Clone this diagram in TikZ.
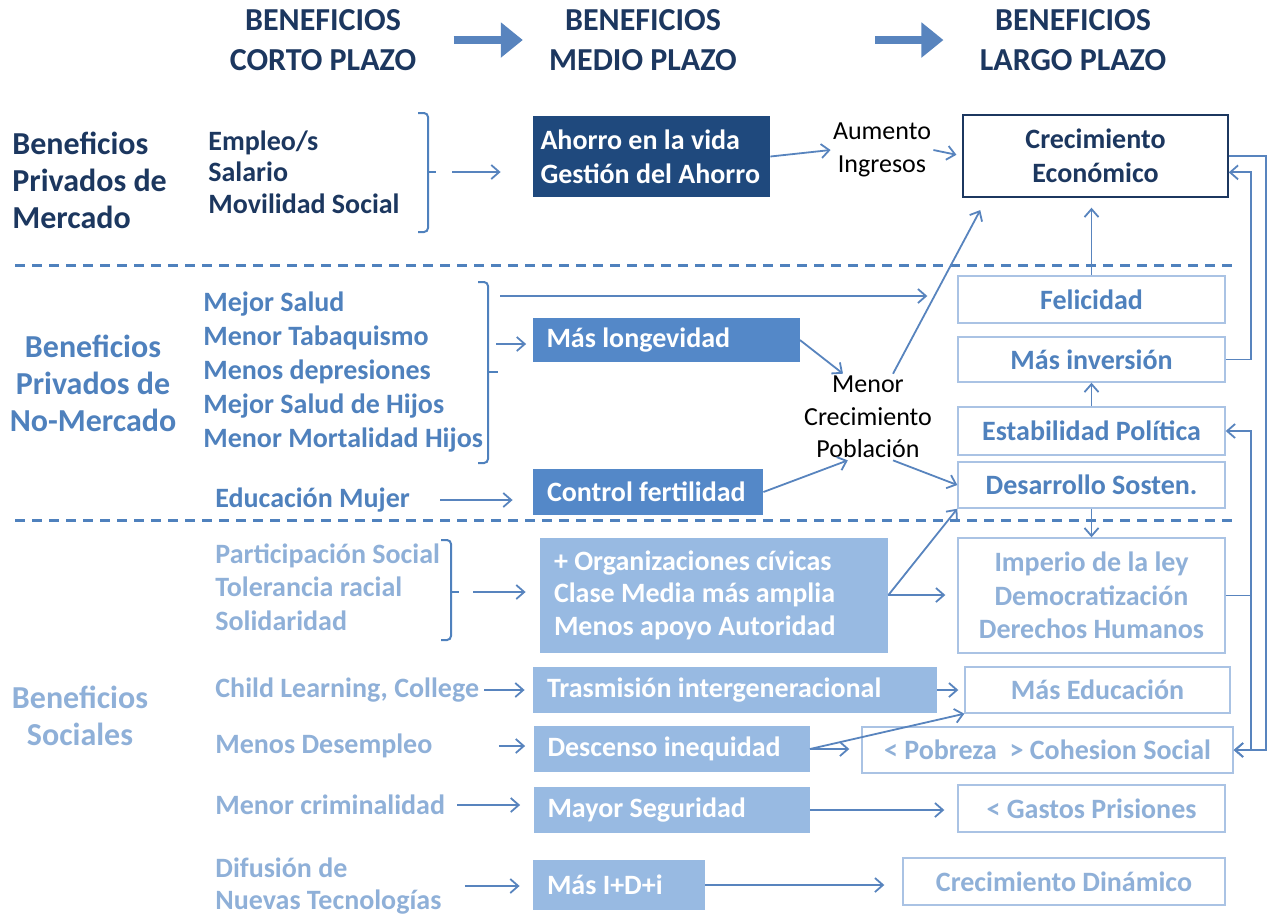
\documentclass[tikz,border=0pt]{standalone}
\usepackage{fontspec}
\setmainfont{Carlito}
\usetikzlibrary{arrows.meta}

\definecolor{navy}{RGB}{28,55,95}
\definecolor{navybox}{RGB}{31,73,125}
\definecolor{midblue}{RGB}{79,129,189}
\definecolor{midbox}{RGB}{84,136,200}
\definecolor{lightblue}{RGB}{143,176,216}
\definecolor{lightbox}{RGB}{152,186,226}
\definecolor{boxline}{RGB}{170,195,228}
\definecolor{arrowblue}{RGB}{88,132,190}

\begin{document}
\begin{tikzpicture}[x=0.5pt, y=-0.5pt,
		hdr/.style={font=\fontsize{16}{20}\selectfont\bfseries, text=navy, align=center, inner sep=0},
		cat/.style={font=\fontsize{16}{18.5}\selectfont\bfseries, inner sep=0},
		item/.style={font=\fontsize{14}{16.5}\selectfont\bfseries, anchor=west, align=flush left, inner sep=0},
		plain/.style={font=\fontsize{13}{16.25}\selectfont, align=center, inner sep=1pt},
		fbox/.style 2 args={text width=#1, minimum height=#2, inner xsep=7pt, inner ysep=0, align=flush left, text=white, font=\fontsize{14}{17}\selectfont\bfseries},
		obox/.style 2 args={draw=boxline, line width=0.7pt, fill=white, minimum width=#1, minimum height=#2, align=center, inner sep=0, font=\fontsize{14}{17}\selectfont\bfseries},
		link/.style={-{Straight Barb[length=4pt,width=7pt]}, draw=arrowblue, line width=0.9pt},
		bigarrow/.style={-{Triangle[length=11pt,width=17pt]}, draw=arrowblue, line width=4pt},
		sep/.style={draw=midblue, line width=1.5pt, dash pattern=on 5pt off 3.5pt},
		brace/.style={draw=midblue, line width=1pt, rounded corners=2pt}]
		\useasboundingbox ( 0, 0 ) rectangle ( 1277, 918 );

		% cabeceras
		\node [hdr] (hdrCorto) at ( 323, 40 ) {BENEFICIOS\\CORTO PLAZO};
		\node [hdr] (hdrMedio) at ( 643, 40 ) {BENEFICIOS\\MEDIO PLAZO};
		\node [hdr] (hdrLargo) at ( 1073, 40 ) {BENEFICIOS\\LARGO PLAZO};
		\draw [bigarrow, shorten <=18.5pt, shorten >=13pt] (hdrCorto.east) -- (hdrMedio.west);
		\draw [bigarrow, shorten <=69pt, shorten >=18pt] (hdrMedio.east) -- (hdrLargo.west);

		% separadores
		\draw [sep] ( 15, 265 ) -- ( 1232, 265 );
		\draw [sep] ( 15, 520 ) -- ( 1232, 520 );

		% categorias
		\node [cat, text=navy, align=left, anchor=west] (catMercado) at ( 12, 180 ) {Beneficios\\Privados de\\Mercado};
		\node [cat, text=midblue, align=center] (catNoMercado) at ( 93, 383 ) {Beneficios\\Privados de\\No-Mercado};
		\node [cat, text=lightblue, align=center] (catSociales) at ( 80, 716 ) {Beneficios\\Sociales};

		% corto plazo: mercado
		\node [item, text=navy, font=\fontsize{14}{15.75}\selectfont\bfseries] (itMercado) at ( 208, 172 ) {Empleo/s\\Salario\\Movilidad Social};
		\draw [brace] ( 418, 113 ) -- ( 428, 113 ) -- ( 428, 232 ) -- ( 418, 232 );
		\draw [brace] ( 428, 172 ) -- ( 436, 172 );
		\coordinate (brMercado) at ( 436, 172 );

		% corto plazo: no mercado
		\node [item, text=midblue, font=\fontsize{14}{17}\selectfont\bfseries] (itNoMercado) at ( 203, 372 ) {Mejor Salud\\Menor Tabaquismo\\Menos depresiones\\Mejor Salud de Hijos\\Menor Mortalidad Hijos};
		\draw [brace] ( 478, 282 ) -- ( 488, 282 ) -- ( 488, 463 ) -- ( 478, 463 );
		\draw [brace] ( 488, 372 ) -- ( 498, 372 );
		\coordinate (brSalud) at ( 500, 296 );
		\coordinate (brLongev) at ( 496, 344 );
		\node [item, text=midblue] (itMujer) at ( 215, 500 ) {Educación Mujer};

		% corto plazo: sociales
		\node [item, text=lightblue, font=\fontsize{14}{16.75}\selectfont\bfseries] (itSocial) at ( 215, 587 ) {Participación Social\\Tolerancia racial\\Solidaridad};
		\draw [brace] ( 441, 540 ) -- ( 451, 540 ) -- ( 451, 640 ) -- ( 441, 640 );
		\draw [brace] ( 451, 592 ) -- ( 459, 592 );
		\coordinate (brSocial) at ( 459, 592 );
		\node [item, text=lightblue] (itChild) at ( 215, 690 ) {Child Learning, College};
		\node [item, text=lightblue] (itDesempleo) at ( 215, 746 ) {Menos Desempleo};
		\node [item, text=lightblue] (itCrimen) at ( 215, 805 ) {Menor criminalidad};
		\node [item, text=lightblue, font=\fontsize{14}{16}\selectfont\bfseries] (itDifusion) at ( 215, 886 ) {Difusión de\\Nuevas Tecnologías};

		% medio plazo
		\node [fbox={111pt}{40.5pt}, inner xsep=3.75pt, fill=navybox] (ahorro) at ( 651.5, 156.5 ) {Ahorro en la vida\\Gestión del Ahorro};
		\node [fbox={119.5pt}{22pt}, fill=midbox] (longev) at ( 666, 340 ) {Más longevidad};
		\node [fbox={101pt}{23pt}, fill=midbox] (fertil) at ( 648, 492 ) {Control fertilidad};
		\node [fbox={160pt}{57.5pt}, fill=lightbox, font=\fontsize{14}{16.25}\selectfont\bfseries] (civicas) at ( 714, 595 ) {+ Organizaciones cívicas\\Clase Media más amplia\\Menos apoyo Autoridad};
		\node [fbox={188pt}{23pt}, fill=lightbox] (trasmi) at ( 735, 690 ) {Trasmisión intergeneracional};
		\node [fbox={124pt}{23pt}, fill=lightbox] (descenso) at ( 671.5, 749 ) {Descenso inequidad};
		\node [fbox={124pt}{23pt}, fill=lightbox] (seguridad) at ( 671.5, 810 ) {Mayor Seguridad};
		\node [fbox={72pt}{25pt}, fill=lightbox] (imasd) at ( 619, 885 ) {Más I+D+i};
		\node [plain, text=black] (aumento) at ( 882, 150 ) {Aumento\\Ingresos};
		\node [plain, text=black] (menorPobl) at ( 868, 417 ) {Menor\\Crecimiento\\Población};

		% largo plazo
		\node [obox={132.5pt}{41pt}, draw=navy, text=navy] (crecEco) at ( 1095.5, 156 ) {Crecimiento\\Económico};
		\node [obox={133.5pt}{23.5pt}, text=midblue] (felicidad) at ( 1091.5, 299.5 ) {Felicidad};
		\node [obox={133.5pt}{22.5pt}, text=midblue] (inversion) at ( 1091.5, 359.5 ) {Más inversión};
		\node [obox={133.5pt}{24pt}, text=midblue] (estabilidad) at ( 1091.5, 431 ) {Estabilidad Política};
		\node [obox={133.5pt}{23pt}, text=midblue] (desarrollo) at ( 1091.5, 485 ) {Desarrollo Sosten.};
		\node [obox={133.5pt}{57.5pt}, text=lightblue, font=\fontsize{14}{16.75}\selectfont\bfseries] (imperio) at ( 1091.5, 595.5 ) {Imperio de la ley\\Democratización\\Derechos Humanos};
		\node [obox={132.5pt}{23pt}, text=lightblue] (educacion) at ( 1097.5, 690 ) {Más Educación};
		\node [obox={185.5pt}{23pt}, text=lightblue] (pobreza) at ( 1047.5, 750 ) {< Pobreza~~> Cohesion Social};
		\node [obox={133.5pt}{23.5pt}, text=lightblue] (gastos) at ( 1091.5, 808.5 ) {< Gastos Prisiones};
		\node [obox={161pt}{23.5pt}, text=lightblue] (crecDin) at ( 1064, 881.5 ) {Crecimiento Dinámico};

		% flechas mercado
		\draw [link, shorten <=8pt, shorten >=16pt] (brMercado) -- (brMercado -| ahorro.west);
		\draw [link] (ahorro.east) -- (aumento.west);
		\draw [link, shorten >=3pt] (aumento.east) -- (crecEco.west);

		% flechas no mercado
		\draw [link, shorten >=15pt] (brSalud) -- (brSalud -| felicidad.west);
		\draw [link, shorten >=3pt] (brLongev) -- (brLongev -| longev.west);
		\draw [link, shorten <=15pt, shorten >=10pt] (itMujer.east) -- (itMujer.east -| fertil.west);
		\draw [link] (longev.east) -- (menorPobl.120);
		\draw [link] (fertil.east) -- (menorPobl.245);
		\draw [link, shorten >=7pt] (menorPobl.60) -- (crecEco.201);
		\draw [link] (menorPobl.300) -- (desarrollo.west);

		% flechas sociales
		\draw [link, shorten <=7pt, shorten >=7pt] (brSocial) -- (brSocial -| civicas.west);
		\draw [link, shorten >=6pt] (civicas.east) -- (civicas.east -| imperio.west);
		\draw [link] (civicas.east) -- (desarrollo.south west);
		\draw [link, shorten <=2.5pt, shorten >=4pt] (itChild.east) -- (itChild.east -| trasmi.west);
		\draw [link, shorten >=3pt] (trasmi.east) -- (trasmi.east -| educacion.west);
		\draw [link, shorten <=33pt, shorten >=4pt] (itDesempleo.east) -- (itDesempleo.east -| descenso.west);
		\draw [link, shorten >=6pt] (descenso.east) -- (descenso.east -| pobreza.west);
		\draw [link] (descenso.east) -- (educacion.south west);
		\draw [link, shorten <=6pt, shorten >=6.5pt] (itCrimen.east) -- (itCrimen.east -| seguridad.west);
		\draw [link, shorten >=6.5pt] (seguridad.east) -- (seguridad.east -| gastos.west);
		\draw [link, shorten <=11.5pt, shorten >=6.5pt] (itDifusion.east) -- (itDifusion.east -| imasd.west);
		\draw [link, shorten >=9pt] (imasd.east) -- (imasd.east -| crecDin.west);

		% flechas largo plazo
		\draw [link, shorten >=5pt] (felicidad.north) -- (felicidad.north |- crecEco.south);
		\draw [link] (estabilidad.north) -- (inversion.south);
		\draw [link] (desarrollo.south) -- (imperio.north);
		\draw [link] (inversion.east) -- ++( 25, 0 ) |- (crecEco.-7);
		\draw [link] (crecEco.east) -- ++( 37, 0 ) |- (pobreza.east);
		\draw [link] (imperio.east) -- ++( 25, 0 ) |- (estabilidad.east);
		\draw [link] (imperio.east) -- ++( 25, 0 ) |- (pobreza.east);
\end{tikzpicture}
\end{document}
